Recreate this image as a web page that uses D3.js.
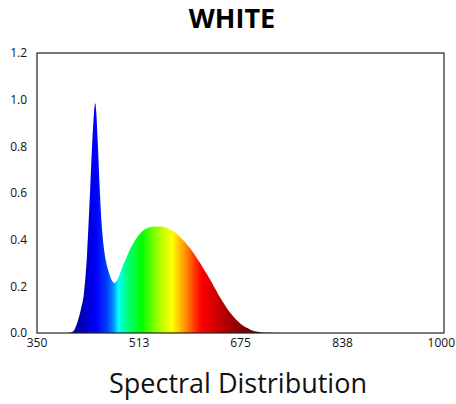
<!DOCTYPE html>
<html><head><meta charset="utf-8">
<script src="https://cdn.jsdelivr.net/npm/d3@7"></script>
<style>body{margin:0;background:#fff}svg{display:block}</style>
</head><body>
<script>
const wavelengths = [400,405,410,415,420,425,430,435,440,443,445,447,450,452,455,458,460,463,465,468,470,473,475,480,485,490,495,500,505,510,515,520,525,530,535,540,545,550,555,560,565,570,575,580,585,590,595,600,605,610,615,620,625,630,635,640,645,650,655,660,665,670,675,680,685,690,695,700,710,720,730];
const intensity = [0,0.003,0.015,0.05,0.10,0.17,0.34,0.62,0.90,0.985,0.93,0.82,0.63,0.52,0.41,0.34,0.31,0.275,0.258,0.235,0.224,0.215,0.216,0.238,0.272,0.306,0.338,0.366,0.39,0.41,0.427,0.44,0.448,0.453,0.455,0.456,0.456,0.455,0.452,0.447,0.441,0.432,0.42,0.407,0.393,0.377,0.361,0.343,0.323,0.302,0.28,0.258,0.236,0.212,0.187,0.163,0.141,0.12,0.10,0.082,0.066,0.052,0.04,0.03,0.022,0.015,0.01,0.006,0.002,0.001,0];
const xTicks = [350,513,675,838,1000];
const yTicks = [0,0.2,0.4,0.6,0.8,1.0,1.2];
const stopNm = [400,425,445,462,472,480,492,505,518,535,550,566,578,590,603,613,635,660,690,720];
const stopColors = ["#000080","#0000c0","#0000ff","#0040ff","#0090ff","#00ffff","#00ff90","#00ff40","#00ff00","#70ff00","#c0ff00","#ffff00","#ffc000","#ff8000","#ff3000","#ff0000","#d00000","#a00000","#700000","#400000"];
const title = "WHITE";
const xTitle = "Spectral Distribution";

const W = 456, H = 404;
const m = {l:37, r:12, t:53, b:71};
const svg = d3.select("body").append("svg").attr("width",W).attr("height",H);
const x = d3.scaleLinear().domain([350,1000]).range([m.l, W-m.r]);
const y = d3.scaleLinear().domain([0,1.2]).range([H-m.b, m.t]);

const grad = svg.append("defs").append("linearGradient").attr("id","spec")
  .attr("gradientUnits","userSpaceOnUse")
  .attr("x1",x(350)).attr("x2",x(1000)).attr("y1",0).attr("y2",0);
stopNm.forEach((nm,i)=>{
  grad.append("stop").attr("offset",(nm-350)/650).attr("stop-color",stopColors[i]);
});

const data = wavelengths.map((w,i)=>({w, v:intensity[i]}));
const area = d3.area().x(d=>x(d.w)).y0(y(0)).y1(d=>y(d.v)).curve(d3.curveMonotoneX);
svg.append("path").datum(data).attr("d",area).attr("fill","url(#spec)");

svg.append("rect").attr("x",x(350)).attr("y",y(1.2))
  .attr("width",x(1000)-x(350)).attr("height",y(0)-y(1.2))
  .attr("fill","none").attr("stroke","#222").attr("stroke-width",1.2);

const font = "'Open Sans', sans-serif";
svg.append("g").selectAll("text").data(yTicks).join("text")
  .attr("x",m.l-10).attr("y",d=>y(d)).attr("dy","0.35em")
  .attr("text-anchor","end").attr("font-family",font).attr("font-size",12).attr("fill","#111")
  .text(d=>d.toFixed(1));
svg.append("g").selectAll("text").data(xTicks).join("text")
  .attr("x",(d,i)=> i===xTicks.length-1 ? W-1 : x(d)).attr("y",y(0)+14)
  .attr("text-anchor",(d,i)=> i===xTicks.length-1 ? "end" : "middle")
  .attr("font-family",font).attr("font-size",12).attr("fill","#111")
  .text(d=>d);

svg.append("text").attr("x",232).attr("y",28).attr("text-anchor","middle")
  .attr("font-family",font).attr("font-weight","bold").attr("font-size",27).attr("fill","#000").text(title);
svg.append("text").attr("x",238).attr("y",393).attr("text-anchor","middle")
  .attr("font-family",font).attr("font-size",27).attr("fill","#111").text(xTitle);
</script>
</body></html>
